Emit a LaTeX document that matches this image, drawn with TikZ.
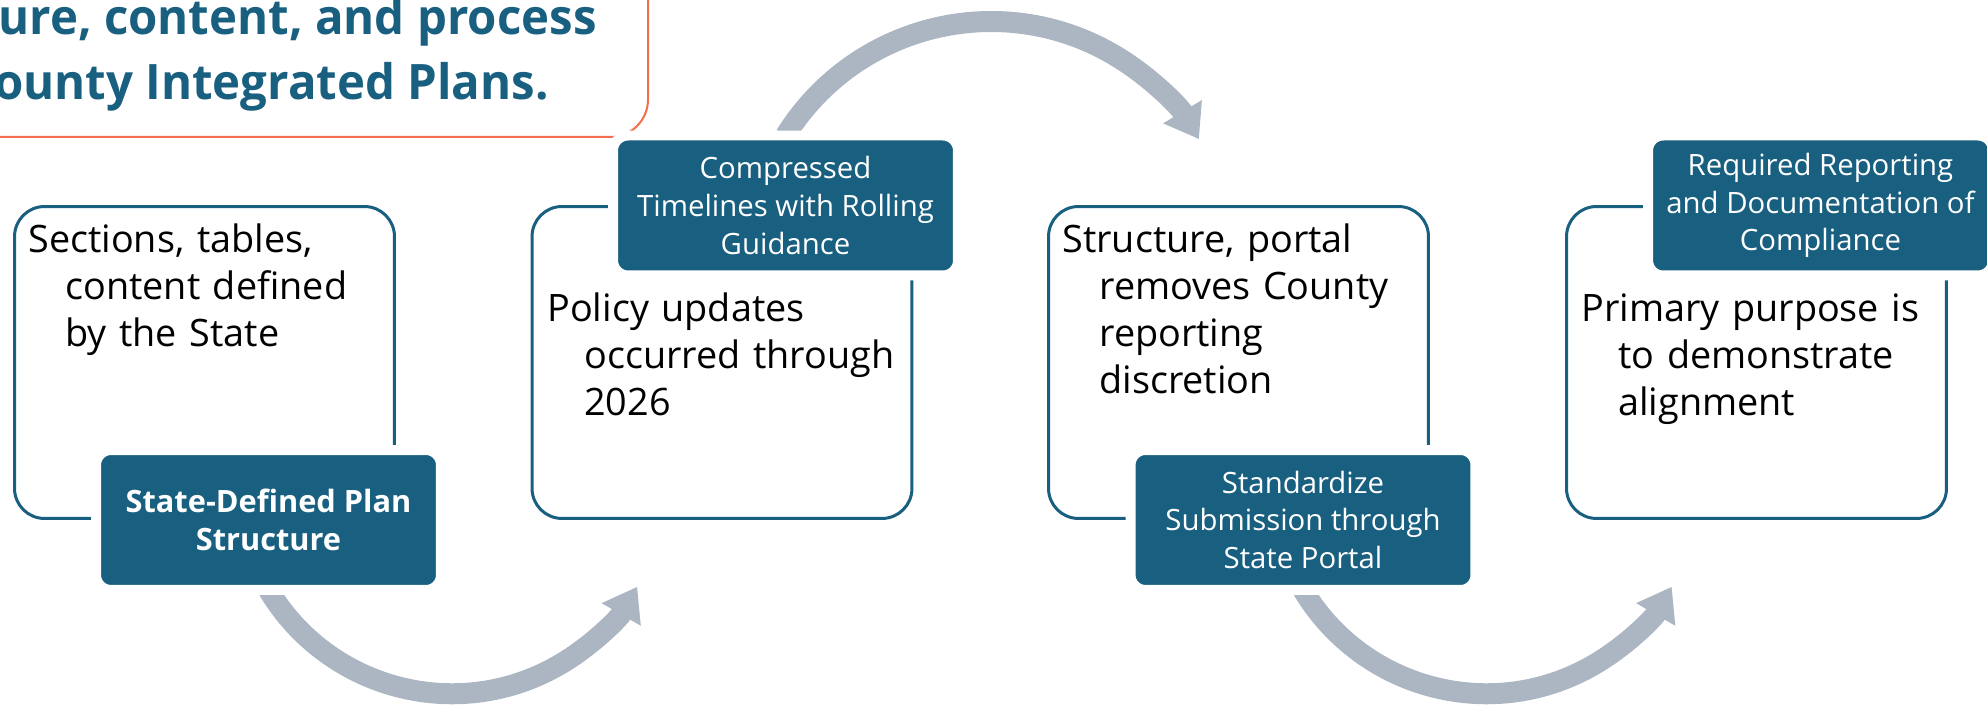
\documentclass[tikz,border=0pt]{standalone}
\usepackage{fontspec}
\setmainfont{Open Sans}
\newfontfamily\titlefont[FakeStretch=0.97]{Open Sans}
\usepackage{tikz}
\usetikzlibrary{arrows.meta,backgrounds}
\definecolor{deepblue}{RGB}{24,95,128}
\definecolor{arcgray}{RGB}{171,182,194}
\definecolor{coral}{RGB}{242,110,76}
\newcommand{\indt}{\hspace*{0.74cm}}

\begin{document}
\begin{tikzpicture}[x=0.02cm,y=0.02cm]
\tikzstyle{card}=[draw=deepblue,line width=0.06cm,rounded corners=0.6cm,minimum width=7.6cm,minimum height=6.24cm];
\tikzstyle{tag}=[fill=deepblue,draw=white,line width=0.2cm,rounded corners=0.3cm,minimum width=6.9cm,minimum height=2.8cm,outer sep=0pt,inner sep=0pt,text=white,align=center,font=\fontsize{16.7pt}{21.5pt}\selectfont];
\tikzstyle{body}=[anchor=base west,inner sep=0pt,text width=7.4cm,align=left,font=\fontsize{21.5pt}{26.6pt}\selectfont];
\tikzstyle{flow}=[arcgray,line width=0.42cm,-{Triangle[length=0.64cm,width=0.86cm]}];

\useasboundingbox (0,0) rectangle (1987,705);

% heading, cut by the page edge
\draw[coral,line width=0.04cm,rounded corners=0.75cm] (-60,568) rectangle (648,780);
\node[anchor=base east,inner sep=0pt,text=deepblue,font={\titlefont\fontsize{27.8pt}{36.8pt}\selectfont\bfseries}] (head1) at (597,670) {ure, content, and process};
\node[anchor=base east,inner sep=0pt,text=deepblue,font={\titlefont\fontsize{27.8pt}{36.8pt}\selectfont\bfseries}] (head2) at (549,605) {ounty Integrated Plans.};

% cards
\node[card] (b1) at (204.5,342.5) {};
\node[card] (b2) at (722,342.5) {};
\node[card] (b3) at (1238.5,342.5) {};
\node[card] (b4) at (1756.5,342.5) {};

\node[body] (s1) at (28,452) {Sections, tables,\\ \indt content defined\\ \indt by the State};
\node[body] (s2) at (547,383) {Policy updates\\ \indt occurred through\\ \indt 2026};
\node[body] (s3) at (1062,452) {Structure, portal\\ \indt removes County\\ \indt reporting\\ \indt discretion};
\node[body] (s4) at (1581,383) {Primary purpose is\\ \indt to demonstrate\\ \indt alignment};

% tags
\node[tag,font=\fontsize{17.5pt}{21.5pt}\selectfont\bfseries] (t1) at (268.5,185) {State-Defined Plan\\Structure};
\node[tag] (t2) at (785.5,499.5) {Compressed\\Timelines with Rolling\\Guidance};
\node[tag] (t3) at (1303,185) {Standardize\\Submission through\\State Portal};
\node[tag] (t4) at (1820.5,499.5) {Required Reporting\\and Documentation of\\Compliance};

% curved arrows
\begin{scope}[on background layer]
\draw[flow] (t1.south) arc[start angle=211,end angle=330,radius=4.28cm];
\draw[flow] (t2.north) arc[start angle=148,end angle=31,radius=4.85cm];
\draw[flow] (t3.south) arc[start angle=211,end angle=330,radius=4.28cm];
\end{scope}
\end{tikzpicture}
\end{document}
